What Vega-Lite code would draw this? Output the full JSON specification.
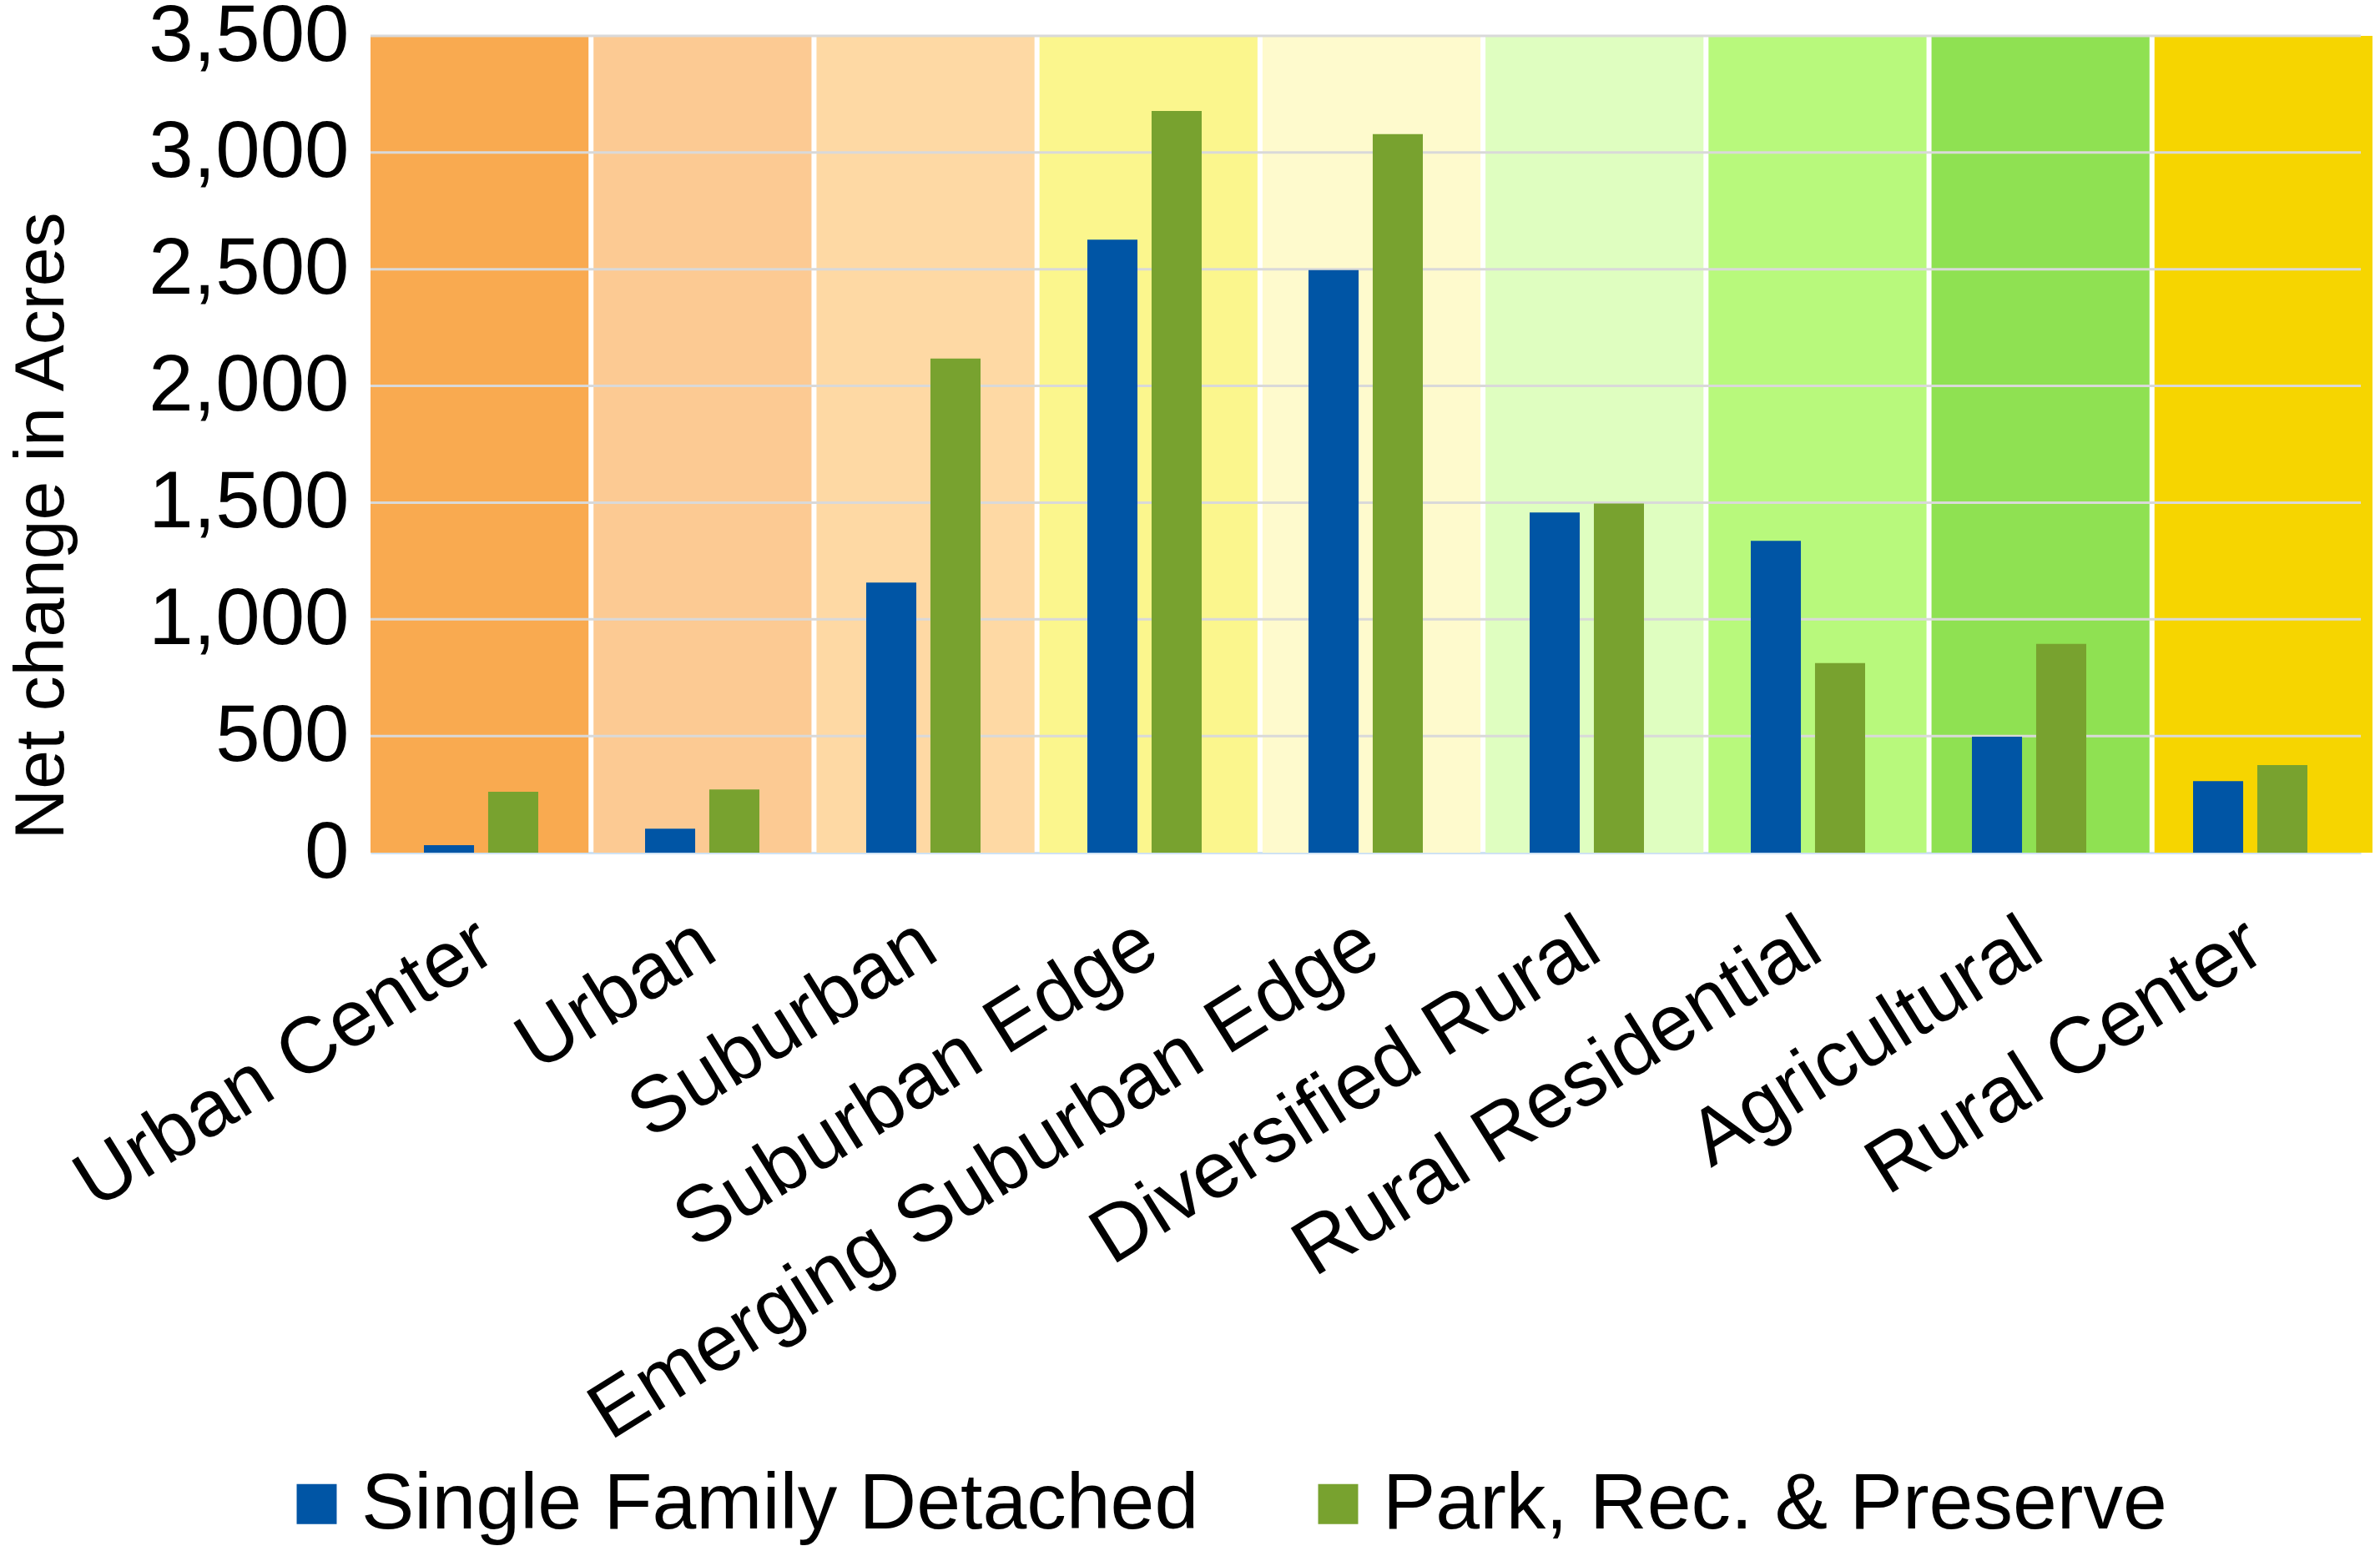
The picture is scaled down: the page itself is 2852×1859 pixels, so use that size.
{
  "$schema": "https://vega.github.io/schema/vega-lite/v6.json",
  "width": 2385,
  "height": 979,
  "autosize": {"type": "none"},
  "padding": {"left": 444, "top": 43, "right": 23, "bottom": 837},
  "background": "white",
  "config": {
    "view": {"stroke": null},
    "font": "Liberation Sans",
    "axisY": {
      "title": "Net change in Acres", "titleFontSize": 84, "titleFontWeight": "normal",
      "titleColor": "black", "titleAngle": -90, "titleBaseline": "alphabetic",
      "titleAlign": "center", "titleX": -369, "titleY": 587,
      "labelFontSize": 96, "labelColor": "black", "labelPadding": 26, "labelBaseline": "middle",
      "labelLimit": 0, "labelOverlap": false,
      "ticks": false, "domain": false, "grid": false
    }
  },
  "datasets": {
    "zones": [
      {"zone": "Urban Center"},
      {"zone": "Urban"},
      {"zone": "Suburban"},
      {"zone": "Suburban Edge"},
      {"zone": "Emerging Suburban Edge"},
      {"zone": "Diversified Rural"},
      {"zone": "Rural Residential"},
      {"zone": "Agricultural"},
      {"zone": "Rural Center"}
    ],
    "gridlines": [
      {"acres": 500}, {"acres": 1000}, {"acres": 1500}, {"acres": 2000},
      {"acres": 2500}, {"acres": 3000}, {"acres": 3500}
    ],
    "change": [
      {"zone": "Urban Center", "use": "Single Family Detached", "acres": 32},
      {"zone": "Urban Center", "use": "Park, Rec. & Preserve", "acres": 261},
      {"zone": "Urban", "use": "Single Family Detached", "acres": 103},
      {"zone": "Urban", "use": "Park, Rec. & Preserve", "acres": 271},
      {"zone": "Suburban", "use": "Single Family Detached", "acres": 1157},
      {"zone": "Suburban", "use": "Park, Rec. & Preserve", "acres": 2117},
      {"zone": "Suburban Edge", "use": "Single Family Detached", "acres": 2627},
      {"zone": "Suburban Edge", "use": "Park, Rec. & Preserve", "acres": 3178},
      {"zone": "Emerging Suburban Edge", "use": "Single Family Detached", "acres": 2496},
      {"zone": "Emerging Suburban Edge", "use": "Park, Rec. & Preserve", "acres": 3079},
      {"zone": "Diversified Rural", "use": "Single Family Detached", "acres": 1458},
      {"zone": "Diversified Rural", "use": "Park, Rec. & Preserve", "acres": 1496},
      {"zone": "Rural Residential", "use": "Single Family Detached", "acres": 1336},
      {"zone": "Rural Residential", "use": "Park, Rec. & Preserve", "acres": 812},
      {"zone": "Agricultural", "use": "Single Family Detached", "acres": 497},
      {"zone": "Agricultural", "use": "Park, Rec. & Preserve", "acres": 895},
      {"zone": "Rural Center", "use": "Single Family Detached", "acres": 307},
      {"zone": "Rural Center", "use": "Park, Rec. & Preserve", "acres": 375}
    ]
  },
  "layer": [
    {
      "data": {"name": "zones"},
      "mark": {"type": "bar"},
      "encoding": {
        "x": {
          "field": "zone", "type": "nominal", "sort": null, "axis": null,
          "scale": {"range": [0, 2399], "paddingInner": 0.0225, "paddingOuter": 0}
        },
        "y": {
          "datum": 3500, "type": "quantitative",
          "scale": {"domain": [0, 3500], "nice": false},
          "axis": {"title": "Net change in Acres", "values": [0, 500, 1000, 1500, 2000, 2500, 3000, 3500], "format": ",.0f"}
        },
        "y2": {"datum": 0},
        "fill": {
          "field": "zone", "type": "nominal", "sort": null, "legend": null,
          "scale": {
            "domain": ["Urban Center", "Urban", "Suburban", "Suburban Edge", "Emerging Suburban Edge", "Diversified Rural", "Rural Residential", "Agricultural", "Rural Center"],
            "range": ["#F9AA50", "#FCCA93", "#FED9A4", "#FBF68D", "#FEFACD", "#DFFEC0", "#B8F97C", "#8FE152", "#F6D500"]
          }
        }
      }
    },
    {
      "data": {"name": "gridlines"},
      "mark": {"type": "rule", "color": "#D9D9D9", "strokeWidth": 3},
      "encoding": {
        "y": {"field": "acres", "type": "quantitative", "axis": {"title": "Net change in Acres", "values": [0, 500, 1000, 1500, 2000, 2500, 3000, 3500], "format": ",.0f"}}
      }
    },
    {
      "data": {"name": "change"},
      "mark": {"type": "bar"},
      "encoding": {
        "x": {
          "field": "zone", "type": "nominal",
          "sort": ["Urban Center", "Urban", "Suburban", "Suburban Edge", "Emerging Suburban Edge", "Diversified Rural", "Rural Residential", "Agricultural", "Rural Center"],
          "scale": {"paddingInner": 0.483, "paddingOuter": 0.2415},
          "axis": {
            "title": null, "labelAngle": -32, "labelAlign": "right", "labelBaseline": "top",
            "labelFontSize": 95, "labelColor": "black", "labelPadding": 62, "labelOffset": -18, "labelLimit": 0,
            "ticks": false, "domainColor": "#CFE2F3", "domainWidth": 3
          }
        },
        "xOffset": {
          "field": "use", "type": "nominal",
          "sort": ["Single Family Detached", "Park, Rec. & Preserve"],
          "scale": {"paddingInner": 0.22, "paddingOuter": 0}
        },
        "y": {
          "field": "acres", "type": "quantitative",
          "axis": {"title": "Net change in Acres", "values": [0, 500, 1000, 1500, 2000, 2500, 3000, 3500], "format": ",.0f"}
        },
        "color": {
          "field": "use", "type": "nominal",
          "sort": ["Single Family Detached", "Park, Rec. & Preserve"],
          "scale": {"domain": ["Single Family Detached", "Park, Rec. & Preserve"], "range": ["#0055A5", "#78A22F"]},
          "legend": {
            "title": null, "orient": "none", "direction": "horizontal", "columns": 2,
            "legendX": -112, "legendY": 1712,
            "symbolType": "square", "symbolSize": 2300, "symbolStrokeWidth": 0,
            "labelFontSize": 95, "labelColor": "black", "labelLimit": 0,
            "labelOffset": 6, "columnPadding": 119
          }
        }
      }
    }
  ],
  "resolve": {"scale": {"x": "independent"}}
}
